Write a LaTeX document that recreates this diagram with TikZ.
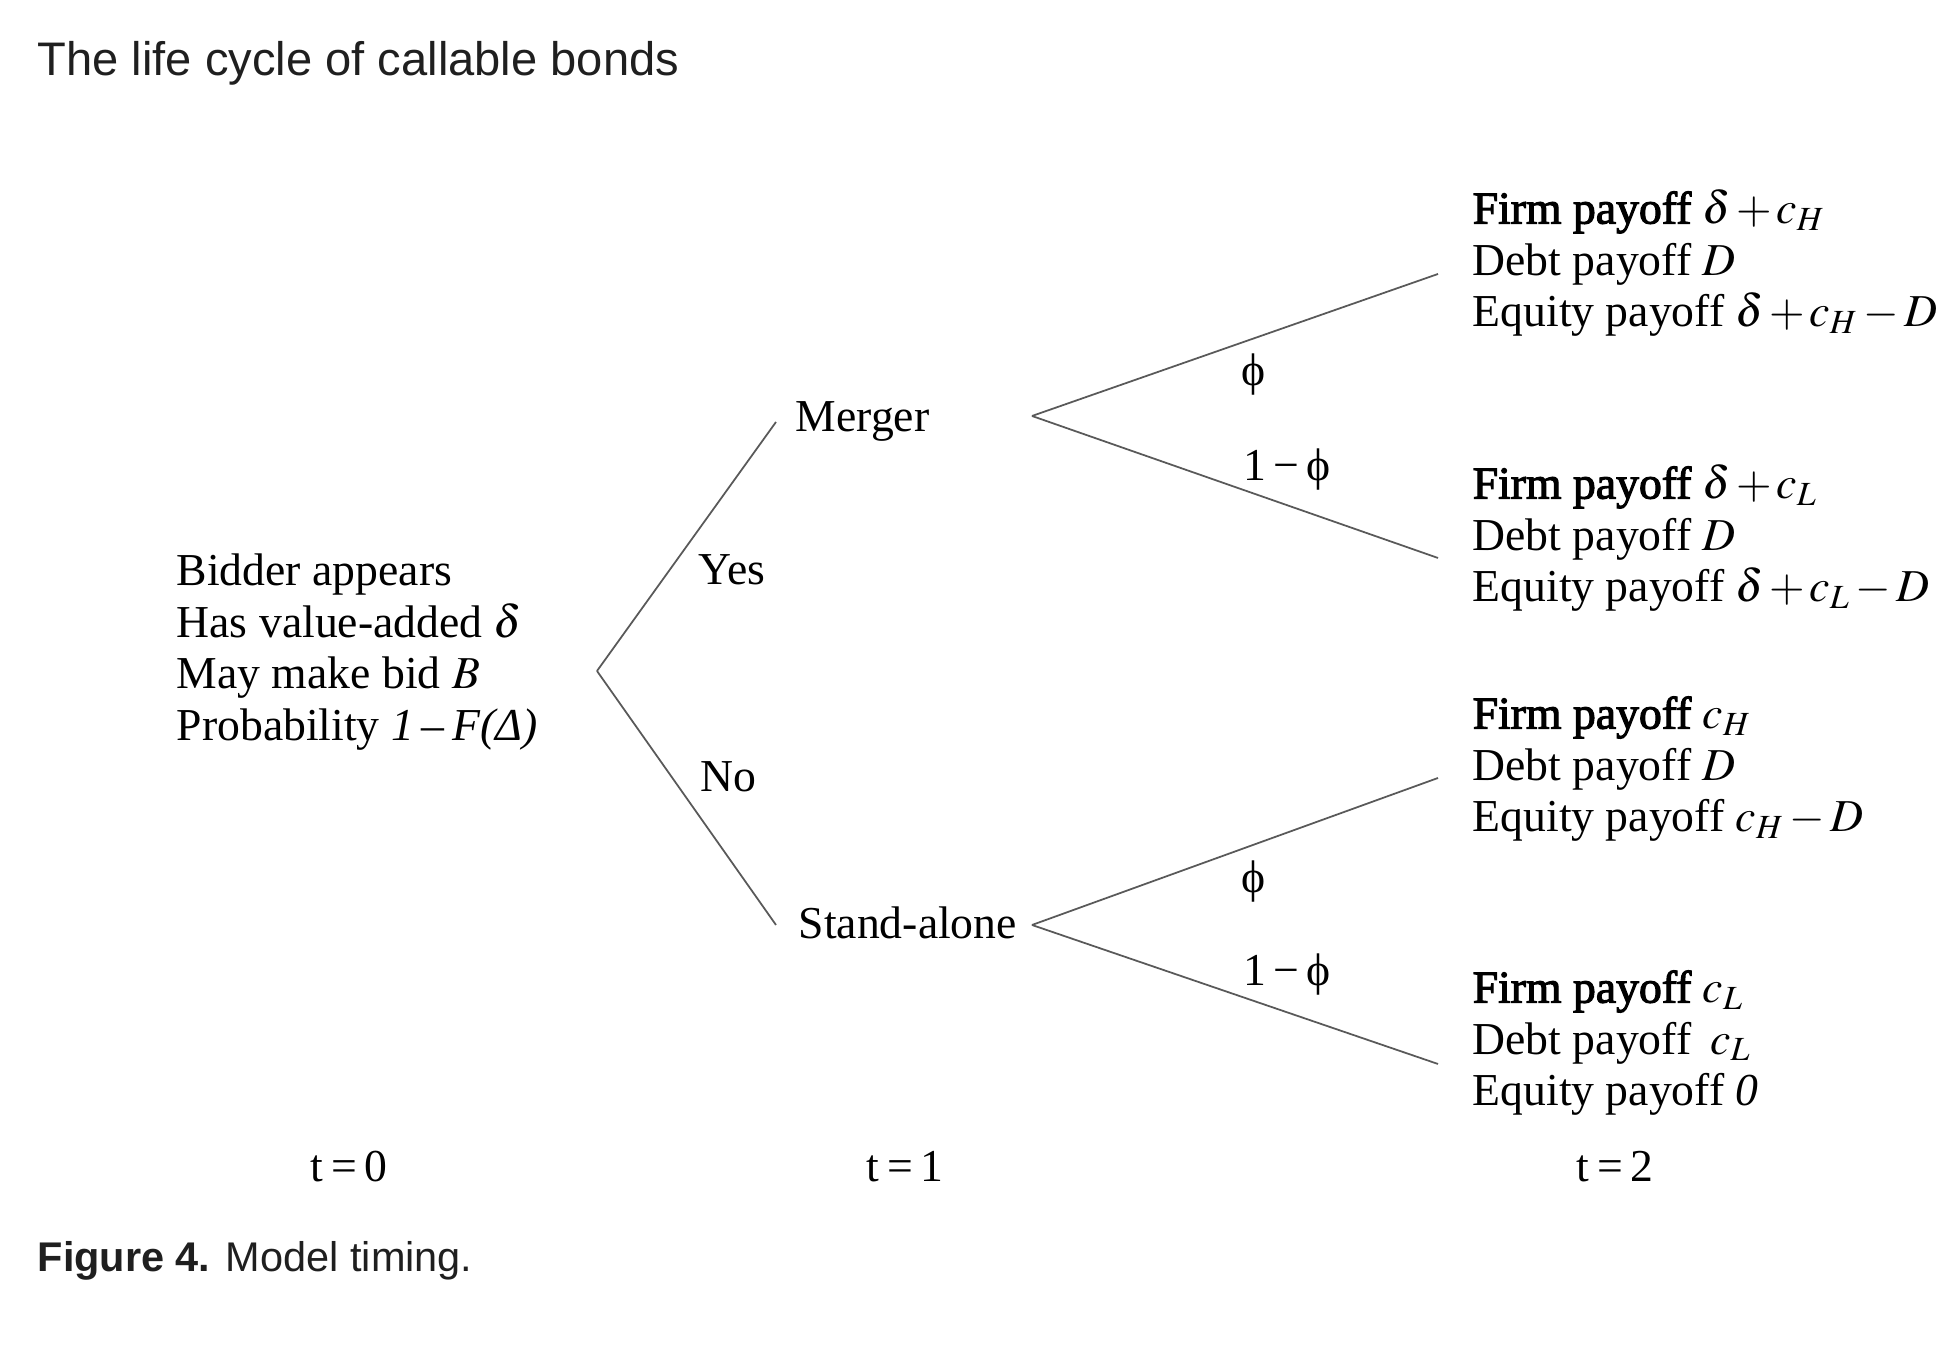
\documentclass[tikz,border=0pt]{standalone}
\usepackage{mathptmx}
\usepackage[no-math]{fontspec}
\setmainfont{Liberation Serif}[BoldFont=Liberation Serif, BoldFeatures={FakeBold=2.4}]
\newfontfamily\headfont{Liberation Sans}
\usetikzlibrary{calc}

\begin{document}
\begin{tikzpicture}[
    branch/.style={draw=black!65, line width=0.5pt},
    txt/.style={inner sep=0pt, anchor=west, align=left, font=\fontsize{13}{14.65}\selectfont},
    prob/.style={inner sep=0pt, font=\fontsize{13}{14.65}\selectfont},
    head/.style={inner sep=0pt, anchor=west, text=black!88}
]
    \medmuskip=2mu
    \useasboundingbox (0,0) rectangle (19.59,13.46);

    \node[head, font=\headfont\fontsize{13.4}{16}\selectfont] (title) at (0.37,12.83) {The life cycle of callable bonds};
    \node[head, font=\headfont\fontsize{11.8}{14}\selectfont] (caption) at (0.37,0.85) {\textbf{Figure 4.} Model timing.};

    % t = 0
    \node[txt] (bidder) at (1.76,6.94) {Bidder appears\\Has value-added $\delta$\\May make bid $B$\\Probability \textit{1\,–\,F(Δ)}};
    \coordinate (root) at (5.97,6.75);

    % t = 1
    \node[txt] (merger) at (7.95,9.25) {Merger};
    \node[txt] (stand) at (7.98,4.23) {Stand-alone};
    \coordinate (mfork) at (10.32,9.30);
    \coordinate (sfork) at (10.32,4.21);

    % t = 2
    \node[txt] (pay1) at (14.72,10.83) {\textbf{Firm payoff} $\delta+c_H$\\Debt payoff $D$\\Equity payoff $\delta+c_H-D$};
    \node[txt] (pay2) at (14.72,8.08) {\textbf{Firm payoff} $\delta+c_L$\\Debt payoff $D$\\Equity payoff $\delta+c_L-D$};
    \node[txt] (pay3) at (14.72,5.77) {\textbf{Firm payoff} $c_H$\\Debt payoff $D$\\Equity payoff $c_H-D$};
    \node[txt] (pay4) at (14.72,3.03) {\textbf{Firm payoff} $c_L$\\Debt payoff \,$c_L$\\Equity payoff \textit{0}};

    \draw[branch] (root) -- ($(merger.west)+(-0.19,-0.01)$);
    \draw[branch] (root) -- ($(stand.west)+(-0.22,-0.02)$);
    \draw[branch] (mfork) -- ($(pay1.west)+(-0.34,-0.11)$);
    \draw[branch] (mfork) -- ($(pay2.west)+(-0.34,-0.20)$);
    \draw[branch] (sfork) -- ($(pay3.west)+(-0.34,-0.09)$);
    \draw[branch] (sfork) -- ($(pay4.west)+(-0.34,-0.21)$);

    \node[prob] (yes) at (7.32,7.76) {Yes};
    \node[prob] (no) at (7.28,5.69) {No};
    \node[prob] (phi1) at (12.54,9.71) {ϕ};
    \node[prob] (nphi1) at (12.87,8.76) {1\,−\,ϕ};
    \node[prob] (phi2) at (12.54,4.64) {ϕ};
    \node[prob] (nphi2) at (12.87,3.71) {1\,−\,ϕ};

    \node[prob] (t0) at (3.49,1.79) {t\,=\,0};
    \node[prob] (t1) at (9.05,1.79) {t\,=\,1};
    \node[prob] (t2) at (16.15,1.79) {t\,=\,2};
\end{tikzpicture}
\end{document}
